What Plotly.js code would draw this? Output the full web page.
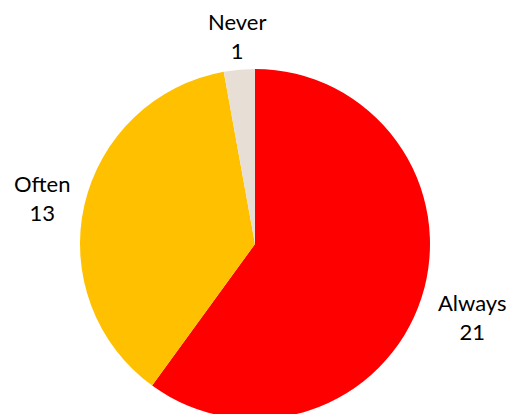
<!DOCTYPE html>
<html>
<head>
<meta charset="utf-8">
<script src="https://cdn.plot.ly/plotly-3.0.1.min.js"></script>
<style>
html,body{margin:0;padding:0;overflow:hidden;background:#fff;width:511px;height:414px;}
#chart{width:511px;height:420px;}
</style>
</head>
<body>
<div id="chart"></div>
<script>
const categories = ["Always", "Often", "Never"];
const values = [21, 13, 1];
const colors = ["#FF0000", "#FFC000", "#E7DFD5"];

// label anchor positions in pixel space (layout only)
const labelPx = [[472, 317], [42, 198], [237, 36]];

const L = 80, T = 69, W = 350, H = 350;
function px2paper(p){ return [(p[0]-L)/W, 1-(p[1]-T)/H]; }

const annotations = categories.map((c,i)=>{
  const p = px2paper(labelPx[i]);
  return {
    text: c + "<br>" + values[i],
    x: p[0], y: p[1], xref: "paper", yref: "paper",
    xanchor: "center", yanchor: "middle", showarrow: false,
    align: "center",
    font: {family: "Lato, 'Open Sans', sans-serif", size: 22, color: "#000"}
  };
});

Plotly.newPlot("chart", [{
  type: "pie",
  labels: categories,
  values: values,
  marker: {colors: colors, line: {width: 0}},
  sort: false,
  direction: "clockwise",
  rotation: 0,
  textinfo: "none",
  hoverinfo: "label+value"
}], {
  width: 511, height: 420,
  margin: {l: L, r: 511-L-W, t: T, b: 420-T-H, pad: 0},
  showlegend: false,
  paper_bgcolor: "#fff",
  annotations: annotations
}, {displayModeBar: false, staticPlot: true});
</script>
</body>
</html>
